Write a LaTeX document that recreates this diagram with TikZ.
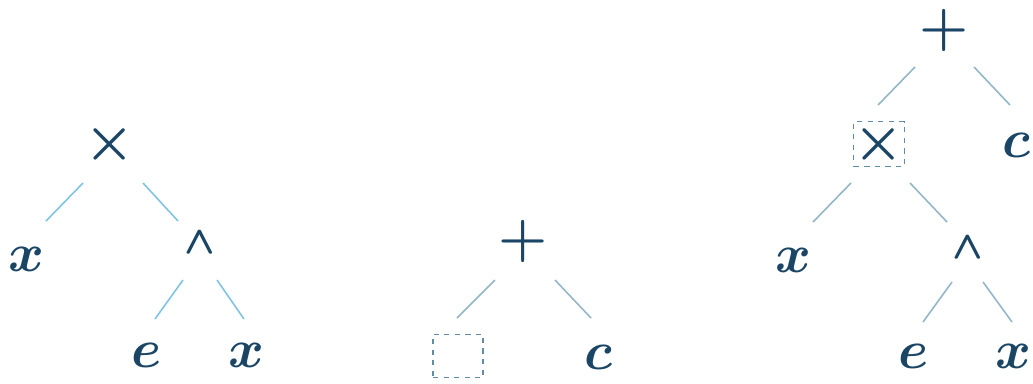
\RequirePackage{fix-cm}
\documentclass[tikz,border=0pt]{standalone}
\usepackage{bm}
\definecolor{ink}{HTML}{1B4565}
\definecolor{branch}{HTML}{7FC4E4}
\definecolor{branchgray}{HTML}{93B6C8}
\definecolor{boxline}{HTML}{5E8CAA}
\newcommand{\heavywedge}{\rlap{$\bm{\wedge}$}\kern0.7pt$\bm{\wedge}$}
\begin{document}
\begin{tikzpicture}[x=0.02cm, y=-0.02cm,
        every node/.style={text=ink, inner sep=0pt, font=\fontsize{31}{36}\selectfont},
        sym/.style={font=\fontsize{32}{38}\selectfont},
        caret/.style={font=\fontsize{22}{26}\selectfont},
        hole/.style={draw=boxline, dashed, line width=0.7pt, minimum width=1cm, minimum height=0.86cm},
        framed/.style={draw=boxline, dashed, line width=0.7pt, minimum width=0.98cm, minimum height=0.9cm},
        twig/.style={draw=branch, line width=0.9pt},
        twiggray/.style={draw=branchgray, line width=0.9pt}]
        \useasboundingbox (0,0) rectangle (1033,383);
        % left tree
        \node[sym] (T) at (110,144) {$\bm{\times}$};
        \node (X1) at (26,259) {$\bm{x}$};
        \node[caret] (W) at (200,243) {\heavywedge};
        \node (E1) at (147,355) {$\bm{e}$};
        \node (X2) at (246,355) {$\bm{x}$};
        \draw[twig] ([shift={(-27,39)}]T.center) -- ([shift={(20,-38)}]X1.center);
        \draw[twig] ([shift={(33,39)}]T.center) -- ([shift={(-22,-22)}]W.center);
        \draw[twig] ([shift={(-17,37)}]W.center) -- ([shift={(8,-36)}]E1.center);
        \draw[twig] ([shift={(17,37)}]W.center) -- ([shift={(-2,-36)}]X2.center);
        % middle tree
        \node[sym] (P) at (523,241) {$\bm{+}$};
        \node[hole] (H) at (458,356) {};
        \node (C) at (598,357) {$\bm{c}$};
        \draw[twiggray] ([shift={(-28,39)}]P.center) -- ([shift={(-1,-38)}]H.center);
        \draw[twiggray] ([shift={(32,39)}]P.center) -- ([shift={(-7,-39)}]C.center);
        % right tree
        \node[sym] (P2) at (944,30) {$\bm{+}$};
        \node[sym, framed] (T2) at (879,144) {$\bm{\times}$};
        \node (C2) at (1016,145) {$\bm{c}$};
        \node (X3) at (793,260) {$\bm{x}$};
        \node[caret] (W2) at (968,248) {\heavywedge};
        \node (E2) at (914,356) {$\bm{e}$};
        \node (X4) at (1013,356) {$\bm{x}$};
        \draw[twiggray] ([shift={(-29,37)}]P2.center) -- ([shift={(-1,-39)}]T2.center);
        \draw[twiggray] ([shift={(30,37)}]P2.center) -- ([shift={(-6,-40)}]C2.center);
        \draw[twiggray] ([shift={(-28,39)}]T2.center) -- ([shift={(20,-38)}]X3.center);
        \draw[twiggray] ([shift={(31,39)}]T2.center) -- ([shift={(-21,-26)}]W2.center);
        \draw[twiggray] ([shift={(-16,34)}]W2.center) -- ([shift={(9,-34)}]E2.center);
        \draw[twiggray] ([shift={(15,34)}]W2.center) -- ([shift={(-1,-34)}]X4.center);
\end{tikzpicture}
\end{document}
